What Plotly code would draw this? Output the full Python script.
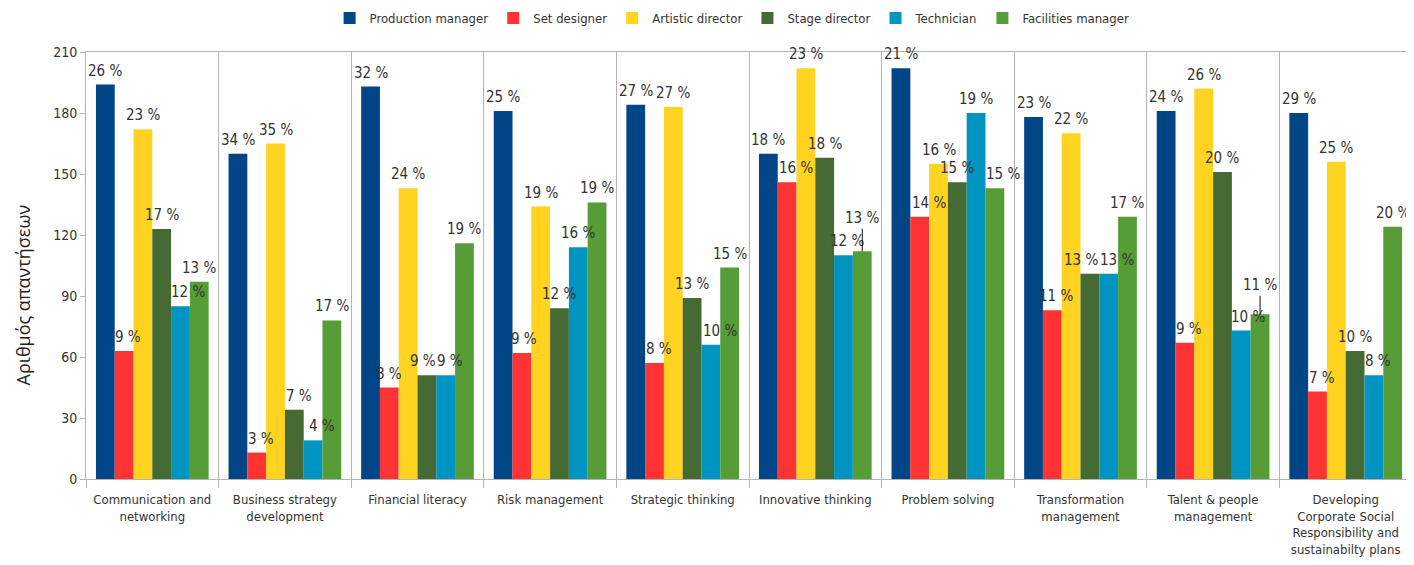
import plotly.graph_objects as go

categories = [
    "Communication and<br>networking",
    "Business strategy<br>development",
    "Financial literacy",
    "Risk management",
    "Strategic thinking",
    "Innovative thinking",
    "Problem solving",
    "Transformation<br>management",
    "Talent & people<br>management",
    "Developing<br>Corporate Social<br>Responsibility and<br>sustainabilty plans",
]

series_names = ["Production manager", "Set designer", "Artistic director",
                "Stage director", "Technician", "Facilities manager"]

production_manager = [194, 160, 193, 181, 184, 160, 202, 178, 181, 180]
set_designer       = [63, 13, 45, 62, 57, 146, 129, 83, 67, 43]
artistic_director  = [172, 165, 143, 134, 183, 202, 155, 170, 192, 156]
stage_director     = [123, 34, 51, 84, 89, 158, 146, 101, 151, 63]
technician         = [85, 19, 51, 114, 66, 110, 180, 101, 73, 51]
facilities_manager = [97, 78, 116, 136, 104, 112, 143, 129, 81, 124]

pm_labels   = ["26 %", "34 %", "32 %", "25 %", "27 %", "18 %", "21 %", "23 %", "24 %", "29 %"]
sd_labels   = ["9 %", "3 %", "8 %", "9 %", "8 %", "16 %", "14 %", "11 %", "9 %", "7 %"]
ad_labels   = ["23 %", "35 %", "24 %", "19 %", "27 %", "23 %", "16 %", "22 %", "26 %", "25 %"]
std_labels  = ["17 %", "7 %", "9 %", "12 %", "13 %", "18 %", "15 %", "13 %", "20 %", "10 %"]
tech_labels = ["12 %", "4 %", "9 %", "16 %", "10 %", "12 %", "19 %", "13 %", "10 %", "8 %"]
fac_labels  = ["13 %", "17 %", "19 %", "19 %", "15 %", "13 %", "15 %", "17 %", "11 %", "20 %"]

colors = ["#004586", "#ff3333", "#ffd320", "#456a33", "#0094c0", "#579d37"]

values = [production_manager, set_designer, artistic_director,
          stage_director, technician, facilities_manager]
labels = [pm_labels, sd_labels, ad_labels, std_labels, tech_labels, fac_labels]

# label placement tweaks (series index, category index) -> (dx px, leader-line length px)
label_tweaks = {
    (1, 0): (4, 0), (4, 0): (8, 0),
    (1, 1): (4, 0), (3, 1): (5, 0), (4, 1): (9, 0),
    (3, 2): (-4, 0), (4, 2): (4, 0),
    (1, 3): (2, 0),
    (1, 4): (4, 0), (4, 4): (9, 0),
    (1, 5): (9, 0), (4, 5): (4, 0), (5, 5): (0, 33),
    (1, 6): (9, 0), (5, 6): (8, 0),
    (1, 7): (4, 0), (3, 7): (-9, 0), (4, 7): (8, 0),
    (1, 8): (4, 0), (4, 8): (7, 0), (5, 8): (0, 29),
    (1, 9): (4, 0), (4, 9): (4, 0),
}

FONT = "DejaVu Sans Condensed, Roboto Condensed, Roboto, Liberation Sans, sans-serif"

W, H = 1406, 557
ML, MR, MT, MB = 78, 2, 44, 86
BARGAP = 0.15

fig = go.Figure()
for name, vals, col in zip(series_names, values, colors):
    fig.add_trace(go.Bar(
        name=name, x=categories, y=vals,
        marker=dict(color=col, line=dict(width=0)),
        hoverinfo="x+y+name",
    ))

# value labels above bars
n_series = len(series_names)
group_px = (W - ML - MR) / len(categories)
bar_px = group_px * (1 - BARGAP) / n_series
annotations = []
for si, (vals, labs) in enumerate(zip(values, labels)):
    for ci, (cat, v, lab) in enumerate(zip(categories, vals, labs)):
        dx, lead = label_tweaks.get((si, ci), (0, 0))
        base_shift = (si - (n_series - 1) / 2) * bar_px
        if lead:
            annotations.append(dict(
                x=cat, y=v, xref="x", yref="y", text=lab,
                xshift=base_shift + dx, showarrow=True, arrowhead=0,
                arrowwidth=1, arrowcolor="#111111", ax=0, ay=-lead,
                standoff=0, startstandoff=0,
                font=dict(size=15, color="#333333", family=FONT),
            ))
        else:
            annotations.append(dict(
                x=cat, y=v, xref="x", yref="y", text=lab,
                xshift=base_shift + dx, yshift=3, yanchor="bottom",
                showarrow=False,
                font=dict(size=15, color="#333333", family=FONT),
            ))

# y-axis title
annotations.append(dict(
    text="Αριθμός απαντήσεων", xref="paper", yref="paper",
    x=-0.0475, y=0.43, xanchor="center", yanchor="middle",
    textangle=-90, showarrow=False,
    font=dict(size=18, family="Open Sans, Liberation Sans, sans-serif", color="#222222"),
))

fig.update_layout(
    width=W, height=H,
    margin=dict(l=ML, r=MR, t=MT, b=MB),
    paper_bgcolor="white", plot_bgcolor="white",
    barmode="group", bargap=BARGAP, bargroupgap=0,
    font=dict(family=FONT, color="#333333"),
    showlegend=True,
    legend=dict(orientation="h", xref="container", yref="container",
                x=0.515, xanchor="center", y=1 - 10 / H, yanchor="middle",
                font=dict(size=13, family=FONT, color="#333333"),
                itemwidth=30, tracegroupgap=0),
    annotations=annotations,
    xaxis=dict(
        type="category", tickson="boundaries", showgrid=True,
        gridcolor="#b3b3b3", gridwidth=1,
        ticks="outside", ticklen=8, tickcolor="#b3b3b3",
        showline=True, linecolor="#b3b3b3", mirror=True,
        tickfont=dict(size=13, family=FONT, color="#333333"),
        ticklabelstandoff=8,
    ),
    yaxis=dict(
        range=[0, 210], dtick=30, showgrid=False,
        ticks="outside", ticklen=5, tickcolor="#b3b3b3",
        showline=True, linecolor="#b3b3b3", mirror=True,
        tickfont=dict(size=14, family=FONT, color="#333333"),
        zeroline=False,
    ),
)

fig.write_html("out.html")
